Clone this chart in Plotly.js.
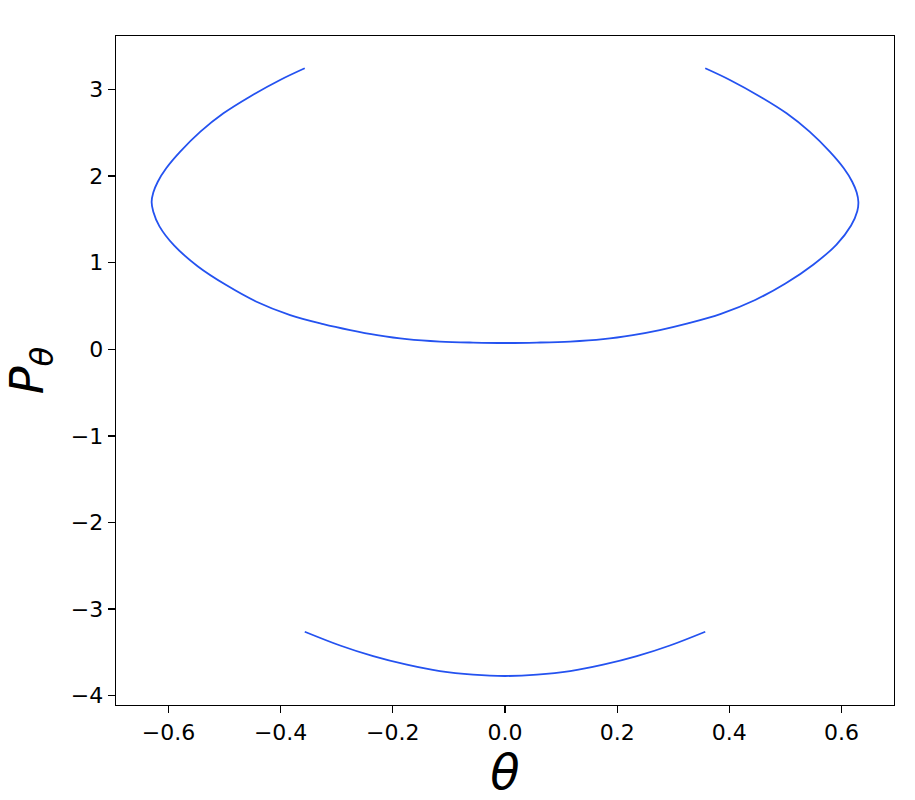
<!DOCTYPE html>
<html>
<head>
<meta charset="utf-8">
<script src="https://cdn.plot.ly/plotly-3.0.1.min.js"></script>
<style>html,body{margin:0;padding:0;background:#fff;}#chart{width:915px;height:800px;}</style>
</head>
<body>
<div id="chart"></div>
<script>
// Upper branch of the phase curve (theta, P_theta)
const upperTheta = [-0.357, -0.401, -0.455, -0.502, -0.543, -0.579, -0.604, -0.619, -0.627, -0.630, -0.627, -0.616, -0.590, -0.548, -0.497, -0.443, -0.383, -0.324, -0.276, -0.228, -0.175, -0.116, -0.057, 0.000,
                    0.057, 0.116, 0.175, 0.228, 0.276, 0.326, 0.385, 0.446, 0.500, 0.550, 0.591, 0.617, 0.628, 0.630, 0.627, 0.619, 0.604, 0.579, 0.543, 0.502, 0.455, 0.401, 0.357];
const upperP = [3.245, 3.110, 2.917, 2.725, 2.513, 2.282, 2.090, 1.935, 1.810, 1.700, 1.590, 1.420, 1.200, 0.960, 0.742, 0.550, 0.396, 0.292, 0.223, 0.165, 0.118, 0.090, 0.078, 0.073,
                0.078, 0.090, 0.118, 0.165, 0.223, 0.300, 0.410, 0.570, 0.760, 0.980, 1.210, 1.430, 1.595, 1.700, 1.810, 1.935, 2.090, 2.282, 2.513, 2.725, 2.917, 3.110, 3.245];
// Lower branch
const lowerTheta = [-0.357, -0.294, -0.235, -0.175, -0.116, -0.057, 0.000, 0.057, 0.116, 0.175, 0.235, 0.294, 0.357];
const lowerP = [-3.261, -3.420, -3.543, -3.642, -3.716, -3.757, -3.772, -3.757, -3.716, -3.642, -3.543, -3.420, -3.261];

const xTicks = [-0.6, -0.4, -0.2, 0.0, 0.2, 0.4, 0.6];
const yTicks = [-4, -3, -2, -1, 0, 1, 2, 3];

const lineStyle = {color: '#2452f0', width: 1.8, shape: 'spline', smoothing: 1.0};
const traces = [
  {x: upperTheta, y: upperP, type: 'scatter', mode: 'lines', line: lineStyle, hoverinfo: 'skip'},
  {x: lowerTheta, y: lowerP, type: 'scatter', mode: 'lines', line: lineStyle, hoverinfo: 'skip'}
];

const axisCommon = {
  showline: true, mirror: true, linecolor: '#000', linewidth: 1.3,
  ticks: 'outside', ticklen: 7, tickwidth: 1.3, tickcolor: '#000',
  showgrid: false, zeroline: false,
  tickfont: {family: 'DejaVu Sans', size: 22, color: '#000'}
};

const layout = {
  width: 915, height: 800,
  margin: {l: 116, r: 21, t: 36, b: 95},
  paper_bgcolor: '#fff', plot_bgcolor: '#fff',
  showlegend: false,
  xaxis: Object.assign({}, axisCommon, {
    range: [-0.6935, 0.6935],
    tickmode: 'array', tickvals: xTicks, ticktext: xTicks.map(v => (v < 0 ? '\u2212' : '') + Math.abs(v).toFixed(1)),
    title: {text: '<i>θ</i>', font: {family: 'DejaVu Sans', size: 48, color: '#000'}, standoff: 15}
  }),
  yaxis: Object.assign({}, axisCommon, {
    range: [-4.107, 3.618],
    tickmode: 'array', tickvals: yTicks, ticktext: yTicks.map(v => (v < 0 ? '\u2212' : '') + Math.abs(v)),
    title: {text: '<i>P</i><sub><i>θ</i></sub>', font: {family: 'DejaVu Sans', size: 46, color: '#000'}, standoff: 14}
  })
};

Plotly.newPlot('chart', traces, layout, {staticPlot: true, displayModeBar: false});
</script>
</body>
</html>
